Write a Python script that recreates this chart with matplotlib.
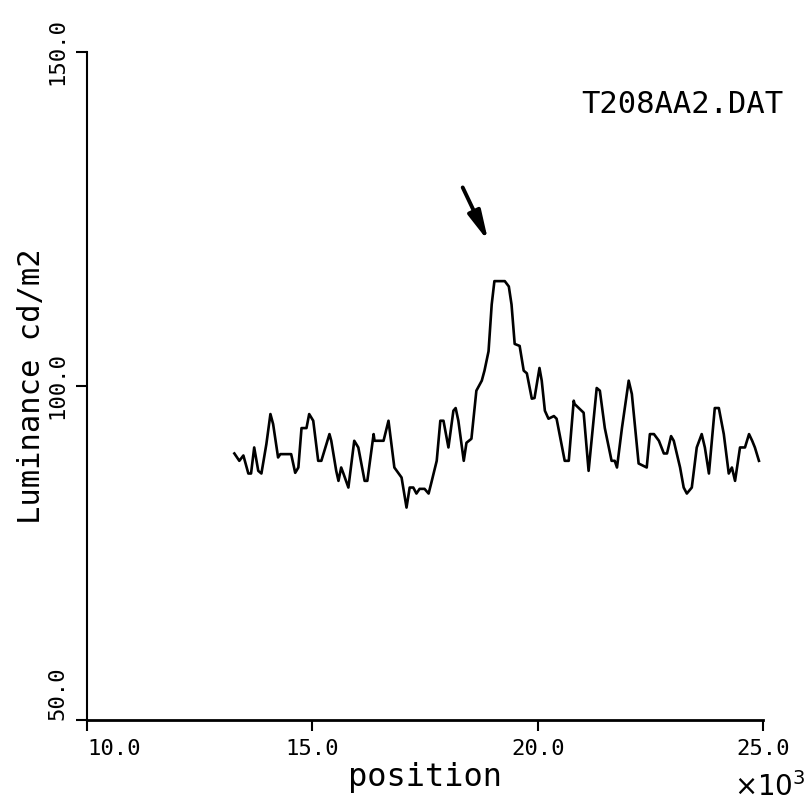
import matplotlib
matplotlib.use("Agg")
import matplotlib.pyplot as plt
import numpy as np

# ============================
# DATA (position in units of 10^3, luminance in cd/m2)
# ============================
position = [13.27, 13.38, 13.47, 13.58, 13.64, 13.71, 13.80, 13.87, 13.98, 14.07,
            14.13, 14.24, 14.29, 14.53, 14.62, 14.69, 14.76, 14.87, 14.93, 15.02,
            15.13, 15.20, 15.38, 15.42, 15.53, 15.58, 15.64, 15.69, 15.80, 15.93,
            16.02, 16.16, 16.22, 16.36, 16.38, 16.58, 16.69, 16.82, 16.98, 17.09,
            17.16, 17.24, 17.31, 17.38, 17.49, 17.58, 17.64, 17.76, 17.84, 17.91,
            18.02, 18.13, 18.18, 18.24, 18.36, 18.42, 18.53, 18.64, 18.76, 18.82,
            18.91, 18.98, 19.04, 19.27, 19.36, 19.42, 19.49, 19.60, 19.69, 19.76,
            19.87, 19.93, 20.04, 20.09, 20.16, 20.24, 20.36, 20.42, 20.60, 20.69,
            20.80, 20.82, 21.02, 21.13, 21.31, 21.38, 21.49, 21.64, 21.71, 21.76,
            21.87, 22.02, 22.09, 22.24, 22.42, 22.49, 22.58, 22.69, 22.80, 22.87,
            22.96, 23.02, 23.16, 23.24, 23.31, 23.42, 23.53, 23.64, 23.71, 23.80,
            23.93, 24.02, 24.13, 24.24, 24.31, 24.38, 24.49, 24.60, 24.69, 24.76,
            24.82, 24.91]
luminance = [89.9, 88.8, 89.6, 86.9, 86.9, 90.8, 87.3, 86.9, 91.3, 95.8,
             94.3, 89.3, 89.8, 89.8, 87.0, 87.8, 93.7, 93.7, 95.8, 94.8,
             88.8, 88.8, 92.8, 91.8, 87.3, 85.8, 87.8, 86.9, 84.8, 91.8,
             90.8, 85.8, 85.8, 92.8, 91.8, 91.8, 94.8, 87.8, 86.3, 81.8,
             84.8, 84.8, 83.9, 84.6, 84.6, 83.9, 85.5, 88.8, 94.8, 94.8,
             90.8, 96.3, 96.7, 94.8, 88.8, 91.5, 92.1, 99.3, 100.8, 102.3,
             105.2, 112.2, 115.7, 115.7, 114.9, 112.2, 106.3, 106.0, 102.3, 101.9,
             98.1, 98.2, 102.7, 100.8, 96.3, 95.1, 95.5, 95.1, 88.8, 88.8,
             97.8, 97.3, 96.0, 87.3, 99.7, 99.3, 93.7, 88.8, 88.8, 87.8,
             93.7, 100.8, 98.8, 88.4, 87.8, 92.8, 92.8, 91.8, 89.9, 89.9,
             92.5, 91.8, 87.8, 84.8, 83.9, 84.8, 90.8, 92.8, 90.8, 86.9,
             96.7, 96.7, 92.8, 86.9, 87.8, 85.8, 90.8, 90.8, 92.8, 91.8,
             90.8, 88.8]

x_ticks = [10.0, 15.0, 20.0, 25.0]
y_ticks = [50.0, 100.0, 150.0]

file_name = "T208AA2.DAT"
arrow_tail = (18.31, 130.1)
arrow_tip = (18.93, 121.3)

# ============================
# PLOT
# ============================
plt.rcParams['font.family'] = ['DejaVu Sans Mono', 'DejaVu Sans']

fig = plt.figure(figsize=(8.11, 8.10), dpi=100)
ax = fig.add_axes([87 / 811, 90 / 810, 676 / 811, 668 / 810])

ax.plot(position, luminance, color='black', lw=1.9)

ax.set_xlim(10, 25)
ax.set_ylim(50, 150)
ax.spines['top'].set_visible(False)
ax.spines['right'].set_visible(False)
ax.spines['bottom'].set_linewidth(2)
ax.spines['left'].set_linewidth(1.5)

ax.set_xticks(x_ticks)
ax.set_xticklabels([f"{t:.1f}" for t in x_ticks], fontsize=16)
ax.set_yticks(y_ticks)
ax.set_yticklabels([f"{t:.1f}" for t in y_ticks], fontsize=16, rotation=90)
ax.tick_params(axis='both', direction='out', length=8, width=1.5, pad=6)
ax.get_xticklabels()[0].set_ha('left')
for lab in ax.get_yticklabels():
    lab.set_va('center')
ax.get_yticklabels()[0].set_va('bottom')

ax.set_xlabel("position", fontsize=23, labelpad=2)
ax.set_ylabel("Luminance cd/m2", fontsize=22, labelpad=1)
ax.text(1.01, -0.1, r"$\times10^3$", transform=ax.transAxes, fontsize=20,
        ha='center', va='center')

ax.text(25.45, 142.2, file_name, fontsize=22, ha='right', va='center', clip_on=False)

ax.annotate("", xy=arrow_tip, xytext=arrow_tail,
            arrowprops=dict(arrowstyle='-|>,head_length=0.8,head_width=0.18',
                            color='black', lw=2.8, mutation_scale=22))

fig.savefig("out.png", dpi=100)
